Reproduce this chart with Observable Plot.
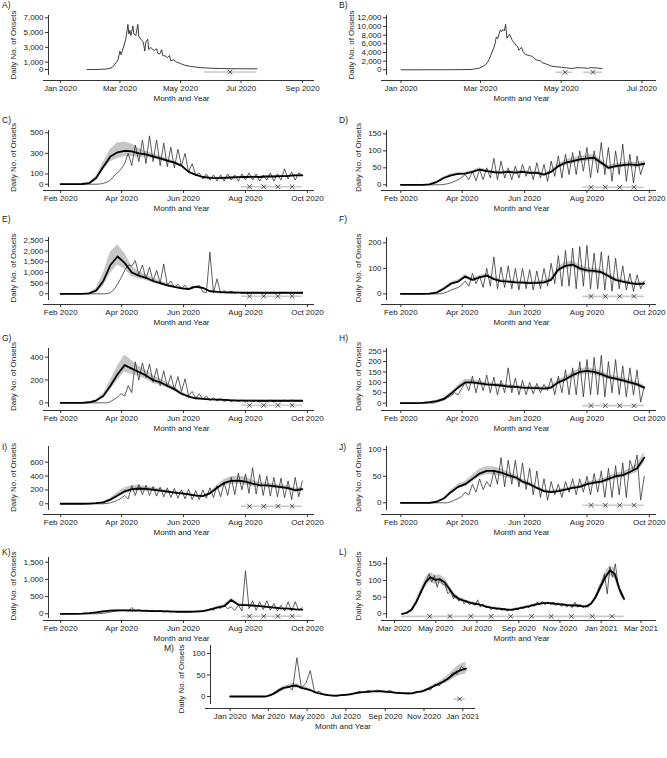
<!DOCTYPE html>
<html><head><meta charset="utf-8">
<script src="https://cdn.jsdelivr.net/npm/d3@7"></script>
<script src="https://cdn.jsdelivr.net/npm/@observablehq/plot@0.6"></script>
<style>
body{margin:0;background:#fff;font-family:"Liberation Sans",Arial,sans-serif;color:#222;}
#wrap{position:relative;width:667px;height:758px;overflow:hidden;}
.panel{position:absolute;}
.lab{position:absolute;font-size:8.5px;line-height:10px;color:#222;}
</style></head>
<body><div id="wrap"></div>
<script>
// ---------------- DATA ----------------
const A_dates = ["2020-01-28","2020-02-08","2020-02-16","2020-02-22","2020-02-26","2020-02-28","2020-03-01","2020-03-02","2020-03-03","2020-03-05","2020-03-07","2020-03-09","2020-03-10","2020-03-11","2020-03-12","2020-03-14","2020-03-15","2020-03-17","2020-03-19","2020-03-20","2020-03-22","2020-03-24","2020-03-25","2020-03-26","2020-03-27","2020-03-29","2020-03-30","2020-04-01","2020-04-03","2020-04-05","2020-04-07","2020-04-08","2020-04-10","2020-04-12","2020-04-13","2020-04-16","2020-04-18","2020-04-20","2020-04-21","2020-04-24","2020-04-27","2020-05-01","2020-05-05","2020-05-10","2020-05-15","2020-05-22","2020-05-31","2020-06-10","2020-06-20","2020-07-01","2020-07-10","2020-07-17"];
const A_values = [0,10,60,250,900,1300,2500,2000,2400,3200,4200,6100,4800,5300,4600,5900,4800,4600,6100,4500,4100,3800,3300,2500,3700,4100,2700,3000,2700,2600,2800,2200,2100,2700,1900,1800,1600,1900,1200,1300,1000,800,600,450,350,250,180,130,110,100,90,100];
const A_bars = [["2020-05-25","2020-07-17"]];
const A_marks = ["2020-06-20"];
const A_yTicks = [0,1000,3000,5000,7000];
const A_xTicks = ["2020-01-01","2020-03-01","2020-05-01","2020-07-01","2020-09-01"];

const B_dates = ["2020-01-01","2020-02-01","2020-02-15","2020-02-24","2020-02-29","2020-03-03","2020-03-05","2020-03-07","2020-03-09","2020-03-11","2020-03-12","2020-03-13","2020-03-14","2020-03-16","2020-03-17","2020-03-18","2020-03-19","2020-03-20","2020-03-21","2020-03-23","2020-03-25","2020-03-27","2020-03-29","2020-03-30","2020-04-01","2020-04-02","2020-04-04","2020-04-07","2020-04-09","2020-04-12","2020-04-15","2020-04-17","2020-04-20","2020-04-23","2020-04-27","2020-05-01","2020-05-05","2020-05-09","2020-05-13","2020-05-17","2020-05-21","2020-05-24","2020-05-28","2020-06-01"];
const B_values = [0,10,30,100,400,800,1200,2000,3500,5000,6000,7600,7200,9200,8800,9300,9000,10500,7300,8200,6800,6000,5400,4500,5200,4300,3500,3300,3100,2300,2100,1600,1300,900,700,600,450,300,500,450,350,500,400,300];
const B_bars = [["2020-04-27","2020-05-10"],["2020-05-18","2020-06-01"]];
const B_marks = ["2020-05-04","2020-05-25"];
const B_yTicks = [0,2000,4000,6000,8000,10000,12000];
const B_xTicks = ["2020-01-01","2020-03-01","2020-05-01","2020-07-01"];

// C–K: observed every 3.5 days, fitted/band every 7 days, both from START_CK
const START_CK = "2020-02-01";
const CK_bars = [["2020-07-28","2020-09-26"]];
const CK_marks = ["2020-08-05","2020-08-19","2020-09-02","2020-09-16"];
const CK_xTicks = ["2020-02-01","2020-04-01","2020-06-01","2020-08-01","2020-10-01"];

const C_obs = [0,0,0,0,0,0,0,0,0,0,0,2,8,20,40,80,110,150,200,300,180,380,220,430,200,470,220,430,180,400,170,360,160,340,180,300,120,200,90,110,50,100,40,90,30,90,30,100,40,90,30,100,40,110,40,100,30,90,40,110,30,100,40,150,50,120,40,110,90];
const C_fit = [0,0,0,2,10,60,170,270,310,325,320,300,290,270,250,230,210,180,120,90,70,62,60,62,65,68,70,72,70,75,75,78,80,85,85];
const C_hi = [0,0,0,3,14,80,210,340,400,410,390,350,320,295,272,248,226,195,132,100,78,70,68,70,73,76,78,80,78,83,83,86,88,94,95];
const C_lo = [0,0,0,1,7,45,135,215,250,270,270,260,262,248,230,213,195,166,108,80,62,55,53,55,58,60,62,64,63,67,67,70,72,76,76];
const C_yTicks = [0,100,300,500];

const D_obs = [0,0,0,0,0,0,0,0,0,0,0,0,1,3,6,10,15,22,30,15,40,12,45,15,50,20,78,15,70,20,50,15,55,20,60,25,55,15,65,20,60,10,70,25,85,20,90,30,95,30,100,40,110,20,100,35,125,30,110,10,100,30,120,10,90,5,85,30,65];
const D_fit = [0,0,0,0,1,8,20,28,32,33,38,45,40,37,36,38,36,38,35,35,30,38,55,65,70,75,78,80,65,50,55,58,60,58,62];
const D_hi = [0,0,0,0,2,11,24,32,36,37,42,50,44,41,40,42,40,42,39,39,34,43,62,73,79,84,87,89,73,57,62,65,67,66,70];
const D_lo = [0,0,0,0,0,5,16,24,28,29,34,40,36,33,32,34,32,34,31,31,26,33,48,57,61,66,69,71,57,43,48,51,53,50,54];
const D_yTicks = [0,50,100,150];

const E_obs = [0,0,0,0,0,0,0,0,0,0,0,0,0,0,50,200,450,750,1100,1350,1300,1550,900,1350,700,1250,600,1100,500,1400,400,600,300,450,250,400,200,350,300,400,100,50,1950,50,700,30,150,40,120,30,80,20,60,20,50,30,60,20,50,30,40,20,50,30,40,20,50,30,40];
const E_fit = [0,0,0,0,20,150,600,1350,1750,1450,1000,850,750,600,500,400,320,250,220,330,280,120,90,70,60,55,50,50,50,50,50,50,50,50,50];
const E_hi = [0,0,0,0,40,260,950,1950,2300,1900,1300,1050,900,720,600,480,380,300,260,380,320,150,110,90,80,70,65,65,65,65,65,65,65,65,65];
const E_lo = [0,0,0,0,10,80,350,950,1350,1150,800,700,620,500,420,330,270,210,185,280,240,95,70,55,45,42,38,38,38,38,38,38,38,38,38];
const E_yTicks = [0,500,1000,1500,2000,2500];

const F_obs = [0,0,0,0,0,0,0,0,0,0,0,0,3,8,15,20,25,35,50,30,80,40,70,25,100,30,145,20,105,25,110,20,100,15,100,20,95,15,90,20,100,30,120,40,150,30,170,30,180,20,185,30,190,20,160,20,165,15,150,10,140,20,110,15,80,10,75,20,50];
const F_fit = [0,0,0,0,1,5,20,40,48,68,55,65,72,58,50,48,45,44,42,43,45,55,95,110,115,100,92,90,85,70,55,48,42,38,40];
const F_hi = [0,0,0,0,2,7,25,46,55,76,62,72,80,65,56,54,51,50,48,49,52,63,106,124,128,112,103,100,95,79,63,55,49,45,48];
const F_lo = [0,0,0,0,0,3,16,34,42,60,48,58,64,52,45,43,40,39,37,38,39,48,85,98,103,89,82,80,76,62,48,42,36,32,33];
const F_yTicks = [0,100,200];

const G_obs = [0,0,0,0,0,0,0,0,0,0,0,0,0,0,10,30,50,80,60,150,90,360,200,350,220,340,180,300,150,280,140,240,120,230,100,210,60,100,40,80,30,60,20,45,15,40,10,30,10,25,10,25,5,20,8,20,5,20,8,25,5,20,8,25,10,25,15,20,15];
const G_fit = [0,0,0,0,5,20,60,150,250,330,300,270,240,200,180,150,120,80,55,40,35,30,28,25,22,20,20,20,18,18,18,18,18,18,18];
const G_hi = [0,0,0,0,7,28,80,195,320,420,370,320,285,240,210,175,140,95,65,48,42,36,34,30,27,25,25,25,23,23,23,23,23,23,23];
const G_lo = [0,0,0,0,3,14,45,115,195,270,250,230,205,170,155,128,102,67,46,33,29,25,23,20,18,16,16,16,14,14,14,14,14,14,14];
const G_yTicks = [0,200,400];

const H_obs = [0,0,0,0,0,0,0,0,0,0,5,10,15,25,35,50,40,70,100,60,130,50,120,60,135,50,125,40,110,50,170,50,120,40,110,40,100,45,95,50,90,60,120,40,130,50,160,40,170,40,200,30,210,40,220,40,230,30,200,50,210,40,180,30,170,40,160,5,80];
const H_fit = [0,0,0,1,5,10,20,45,75,100,100,95,90,88,85,80,78,75,73,72,70,75,100,115,135,150,155,150,140,125,118,110,100,90,75];
const H_hi = [0,0,0,2,7,13,25,52,85,115,112,105,99,96,93,88,86,83,81,80,78,84,112,128,150,166,170,165,154,138,130,122,112,101,86];
const H_lo = [0,0,0,0,3,7,15,38,65,88,90,86,81,80,77,72,70,67,65,64,62,66,88,102,120,134,140,135,126,112,106,98,88,79,64];
const H_yTicks = [0,50,100,150,200,250];

const I_obs = [0,0,0,0,0,0,0,0,0,0,0,0,0,5,15,30,50,80,120,70,260,120,280,130,270,120,250,110,240,100,230,90,220,80,200,70,210,60,190,60,200,80,230,90,260,100,300,120,380,130,440,200,430,150,520,140,420,120,400,110,380,100,370,90,330,60,380,100,330];
const I_fit = [0,0,0,0,2,8,20,60,120,180,210,220,215,205,190,175,160,150,135,118,110,150,230,300,330,335,320,290,270,265,255,240,225,195,210];
const I_hi = [0,0,0,0,3,11,28,80,160,230,260,265,250,235,215,195,178,165,150,132,125,170,265,350,390,400,385,340,310,300,285,270,255,225,240];
const I_lo = [0,0,0,0,1,5,14,45,90,140,170,180,180,175,165,155,142,135,120,105,97,130,195,255,280,285,270,245,235,232,225,212,198,168,180];
const I_yTicks = [0,200,400,600];

const J_obs = [0,0,0,0,0,0,0,0,0,0,0,0,0,0,2,5,8,12,20,15,35,20,45,25,40,30,60,35,85,30,80,35,80,30,75,25,65,15,60,10,45,5,40,15,35,10,40,20,45,15,45,20,50,15,55,20,60,10,65,10,70,15,75,10,80,60,90,5,50];
const J_fit = [0,0,0,0,0,2,8,20,30,35,45,55,60,60,57,52,48,40,35,28,22,20,22,25,28,30,35,38,40,45,50,52,58,65,85];
const J_hi = [0,0,0,0,0,3,10,24,35,40,52,63,68,68,64,58,53,45,39,31,25,23,25,28,31,33,39,42,44,50,55,58,64,73,95];
const J_lo = [0,0,0,0,0,1,6,16,26,30,39,48,53,53,50,46,43,35,31,25,19,17,19,22,25,27,31,34,36,40,45,47,52,57,75];
const J_yTicks = [0,50,100];

const K_obs = [0,0,0,0,0,0,0,0,0,0,0,5,15,30,50,70,80,90,100,80,180,90,120,80,110,70,100,60,90,50,80,50,70,40,60,50,70,50,80,60,100,80,150,100,200,150,250,150,200,100,250,80,1250,150,380,100,350,120,380,100,300,80,250,80,350,80,350,100,180];
const K_fit = [0,0,0,5,20,40,70,90,100,100,95,90,85,80,75,70,65,60,60,65,80,120,180,220,400,260,250,240,220,200,180,160,150,130,120];
const K_hi = [0,0,0,7,26,50,85,105,115,115,110,104,98,92,86,81,75,70,70,76,93,140,210,260,450,300,285,272,250,228,205,184,172,150,140];
const K_lo = [0,0,0,3,14,30,55,75,85,85,80,76,72,68,64,59,55,50,50,54,67,100,150,185,350,225,215,208,190,172,155,136,128,110,100];
const K_yTicks = [0,500,1000,1500];

// L: observed every 4 days from L_OBS_START, fitted/band every 7 days from L_FIT_START
const L_OBS_START = "2020-03-12";
const L_FIT_START = "2020-03-12";
const L_obs = [0,1,3,8,15,30,45,70,85,100,120,95,115,80,105,90,85,60,70,45,55,38,45,30,40,28,35,25,42,20,30,18,22,12,20,14,18,10,16,9,14,10,18,12,20,15,24,18,28,22,35,28,38,27,36,28,34,25,33,22,30,20,28,18,35,20,28,18,25,20,32,45,60,80,95,120,60,140,110,150,90,60,45];
const L_fit = [0,3,12,35,65,95,110,102,104,95,75,55,45,40,35,31,29,25,21,18,16,15,13,12,14,17,20,23,27,30,32,32,31,29,28,26,25,25,23,22,30,50,80,110,130,120,75,45];
const L_hi = [0,4,15,42,75,108,124,116,117,107,85,63,51,45,39,35,32,28,24,21,19,17,15,14,16,19,22,26,30,33,35,35,34,32,31,29,28,28,26,25,34,56,90,124,145,135,86,55];
const L_lo = [0,2,9,28,55,82,96,88,91,83,65,47,39,35,31,27,26,22,18,15,13,13,11,10,12,15,18,20,24,27,29,29,28,26,25,23,22,22,20,19,26,44,70,96,115,105,64,36];
const L_bars = [["2020-03-11","2021-02-04"]];
const L_marks = ["2020-04-22","2020-05-22","2020-06-22","2020-07-22","2020-08-20","2020-09-20","2020-10-19","2020-11-18","2020-12-19","2021-01-17"];
const L_yTicks = [0,50,100,150];
const L_xTicks = ["2020-03-01","2020-05-01","2020-07-01","2020-09-01","2020-11-01","2021-01-01","2021-03-01"];

// M: everything every 7 days from M_START
const M_START = "2020-01-01";
const M_obs = [0,0,0,0,0,0,0,0,0,2,6,12,18,25,15,90,20,30,60,8,12,4,3,2,1,3,4,6,8,12,9,14,11,15,13,12,14,8,10,6,8,6,12,10,18,15,28,25,38,40,55,52,70,60];
const M_fit = [0,0,0,0,0,0,0,0,0,3,8,15,20,22,25,25,20,18,15,10,7,5,3,2,2,3,4,5,7,9,10,11,12,12,12,11,10,9,8,8,7,8,10,12,15,20,25,30,35,42,50,58,62,65];
const M_hi = [0,0,0,0,0,0,0,0,0,4,10,18,24,27,30,30,24,22,18,12,9,6,4,3,3,4,5,6,8,10,11,12,13,13,13,12,11,10,9,9,8,9,11,13,17,23,29,35,41,50,60,70,76,80];
const M_lo = [0,0,0,0,0,0,0,0,0,2,6,12,16,18,20,20,16,14,12,8,5,4,2,1,1,2,3,4,6,8,9,10,11,11,11,10,9,8,7,7,6,7,9,11,13,17,21,25,29,34,40,46,50,52];
const M_bars = [["2020-12-18","2021-01-05"]];
const M_marks = ["2020-12-27"];
const M_yTicks = [0,50,100];
const M_xTicks = ["2020-01-01","2020-03-01","2020-05-01","2020-07-01","2020-09-01","2020-11-01","2021-01-01"];

const Y_TITLE = "Daily No. of Onsets";
const X_TITLE = "Month and Year";

// ---------------- HELPERS ----------------
const parse = d3.utcParse("%Y-%m-%d");
const DAY = 864e5;
function stepSeries(start, step, values) {
  const t0 = +parse(start);
  return values.map((v, i) => ({date: new Date(t0 + i * step * DAY), v}));
}
function pairSeries(dates, values) {
  return dates.map((d, i) => ({date: parse(d), v: values[i]}));
}
function bandSeries(start, step, lo, hi) {
  const t0 = +parse(start);
  return lo.map((l, i) => ({date: new Date(t0 + i * step * DAY), lo: l, hi: hi[i]}));
}

// ---------------- LAYOUT ----------------
const LEFT = {left: 0, width: 333, mr: 19, labX: 2, titleOff: 35};
const RIGHT = {left: 338, width: 329, mr: 11, labX: 1, titleOff: 28};
const ROWS = [
  {top: 0, axisTop: 15, axisBottom: 75, xline: 80, labelY: 5},
  {top: 114, axisTop: 130, axisBottom: 187, xline: 190, labelY: 120},
  {top: 213, axisTop: 237, axisBottom: 300, xline: 304, labelY: 219},
  {top: 332, axisTop: 348, axisBottom: 407, xline: 410, labelY: 338},
  {top: 440, axisTop: 446, axisBottom: 510, xline: 514, labelY: 447},
  {top: 546, axisTop: 557, axisBottom: 618, xline: 620, labelY: 552},
  {top: 634, axisTop: 645, axisBottom: 704, xline: 708, labelY: 648}
];
const MID = {left: 162, width: 333, mr: 20, labX: 2, titleOff: 29};

function ck(id, col, row, xDomain, yDomain, yTicks, obs, fit, lo, hi) {
  return {id, col, row, xDomain, yDomain, yTicks, xTicks: CK_xTicks,
    obs: stepSeries(START_CK, 3.5, obs), fit: stepSeries(START_CK, 7, fit),
    band: bandSeries(START_CK, 7, lo, hi), bars: CK_bars, marks: CK_marks};
}
const LD = ["2020-01-20","2020-10-08"], RD = ["2020-01-18","2020-10-08"];
const panels = [
  {id: "A", col: LEFT, row: ROWS[0], xDomain: ["2019-12-20","2020-09-13"], yDomain: [-810, 7310], yTicks: A_yTicks, xTicks: A_xTicks,
   obs: pairSeries(A_dates, A_values), bars: A_bars, marks: A_marks},
  {id: "B", col: RIGHT, row: ROWS[0], xDomain: ["2019-12-21","2020-07-12"], yDomain: [-1315, 12530], yTicks: B_yTicks, xTicks: B_xTicks,
   obs: pairSeries(B_dates, B_values), bars: B_bars, marks: B_marks, titleOff: 35},
  ck("C", LEFT, ROWS[1], LD, [-32, 522], C_yTicks, C_obs, C_fit, C_lo, C_hi),
  ck("D", RIGHT, ROWS[1], RD, [-8, 160], D_yTicks, D_obs, D_fit, D_lo, D_hi),
  ck("E", LEFT, ROWS[2], LD, [-314, 2639], E_yTicks, E_obs, E_fit, E_lo, E_hi),
  ck("F", RIGHT, ROWS[2], RD, [-26, 221], F_yTicks, F_obs, F_fit, F_lo, F_hi),
  ck("G", LEFT, ROWS[3], LD, [-41, 476], G_yTicks, G_obs, G_fit, G_lo, G_hi),
  ck("H", RIGHT, ROWS[3], RD, [-21, 263], H_yTicks, H_obs, H_fit, H_lo, H_hi),
  ck("I", LEFT, ROWS[4], LD, [-97, 826], I_yTicks, I_obs, I_fit, I_lo, I_hi),
  ck("J", RIGHT, ROWS[4], RD, [-14.5, 106], J_yTicks, J_obs, J_fit, J_lo, J_hi),
  ck("K", LEFT, ROWS[5], LD, [-137, 1637], K_yTicks, K_obs, K_fit, K_lo, K_hi),
  {id: "L", col: RIGHT, row: ROWS[5], xDomain: ["2020-02-18","2021-03-24"], yDomain: [-14, 169], yTicks: L_yTicks, xTicks: L_xTicks,
   obs: stepSeries(L_OBS_START, 4, L_obs), fit: stepSeries(L_FIT_START, 7, L_fit), band: bandSeries(L_FIT_START, 7, L_lo, L_hi),
   bars: L_bars, marks: L_marks},
  {id: "M", col: MID, row: ROWS[6], xDomain: ["2019-12-01","2021-01-21"], yDomain: [-18.6, 118.6], yTicks: M_yTicks, xTicks: M_xTicks,
   obs: stepSeries(M_START, 7, M_obs), fit: stepSeries(M_START, 7, M_fit), band: bandSeries(M_START, 7, M_lo, M_hi),
   bars: M_bars, marks: M_marks, titleDy: 2}
];

const wrap = document.getElementById("wrap");
const AX = "#333";

for (const p of panels) {
  const r = p.row, c = p.col;
  const H = r.xline + 26 - r.top;
  const yd = p.yDomain;
  const xd = p.xDomain.map(parse);
  const gap = r.xline - r.axisBottom;
  const titleOff = p.titleOff ?? c.titleOff;
  const marks = [];
  if (p.band) marks.push(Plot.areaY(p.band, {x: "date", y1: "lo", y2: "hi", fill: "#c6c6c6"}));
  marks.push(Plot.ruleY(p.bars.map(b => b.map(parse)), {x1: d => d[0], x2: d => d[1], y: () => 0, dy: 2.5, stroke: "#c9c9c9", strokeWidth: 1.6}));
  marks.push(Plot.dot(p.marks.map(parse), {x: d => d, y: () => 0, dy: 2.5, symbol: "times", r: 2.2, fill: "none", stroke: "#3a3a3a", strokeWidth: 0.9}));
  marks.push(Plot.line(p.obs, {x: "date", y: "v", stroke: "#2a2a2a", strokeWidth: p.fit ? 0.75 : 0.9}));
  if (p.fit) marks.push(Plot.line(p.fit, {x: "date", y: "v", stroke: "#000", strokeWidth: 1.8}));
  marks.push(Plot.ruleX([xd[0]], {y1: () => yd[0], y2: () => yd[1], stroke: AX}));
  marks.push(Plot.ruleY([yd[0]], {dy: gap, insetLeft: -5, stroke: AX}));
  marks.push(Plot.axisY({ticks: p.yTicks, tickFormat: d3.format(","), tickSize: 3, tickPadding: 2, fontSize: 8, label: null, stroke: AX}));
  marks.push(Plot.axisX({ticks: p.xTicks.map(parse), tickFormat: d3.utcFormat("%b %Y"), tickSize: 3, tickPadding: 2, fontSize: 8, label: null, stroke: AX}));
  marks.push(Plot.text([X_TITLE], {text: d => d, frameAnchor: "bottom", lineAnchor: "middle", textAnchor: "middle", dy: 18, fontSize: 8, fill: "#222"}));
  marks.push(Plot.text([Y_TITLE], {text: d => d, frameAnchor: "left", textAnchor: "middle", lineAnchor: "middle", dx: -titleOff, dy: p.titleDy ?? -3, rotate: -90, fontSize: 8, fill: "#222"}));

  const svg = Plot.plot({
    width: c.width, height: H,
    marginLeft: 48, marginRight: c.mr,
    marginTop: r.axisTop - r.top,
    marginBottom: H - (r.xline - r.top),
    x: {type: "utc", domain: xd},
    y: {domain: yd, insetBottom: gap},
    style: {fontFamily: "'Liberation Sans', Arial, sans-serif", fontSize: "8px", background: "transparent", overflow: "visible", color: "#222"},
    marks
  });
  const div = document.createElement("div");
  div.className = "panel";
  div.style.left = c.left + "px";
  div.style.top = r.top + "px";
  div.appendChild(svg);
  wrap.appendChild(div);

  const lab = document.createElement("div");
  lab.className = "lab";
  lab.textContent = p.id + ")";
  lab.style.left = (c.left + c.labX) + "px";
  lab.style.top = (r.labelY - 5) + "px";
  wrap.appendChild(lab);
}
</script>
</body></html>
